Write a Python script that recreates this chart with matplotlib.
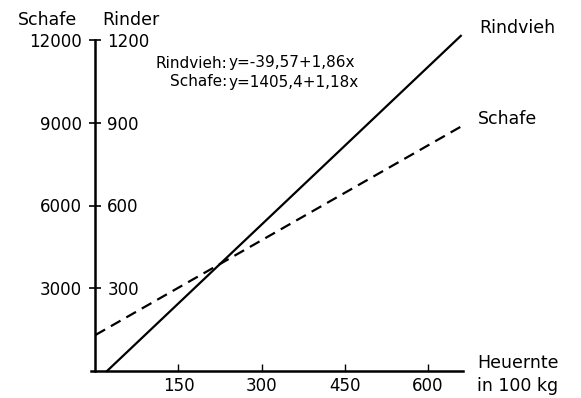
import matplotlib.pyplot as plt

# values
rind_x = [21, 660]          # Heuernte (100 kg)
rind_y = [0, 1215]          # Rinder
schafe_x = [0, 662]
schafe_y = [1305, 8880]     # Schafe

x_ticks = [150, 300, 450, 600]
schafe_ticks = [3000, 6000, 9000, 12000]
rinder_ticks = [300, 600, 900, 1200]

plt.rcParams['font.family'] = 'DejaVu Sans'
fs = 12
lab_fs = 12.5

fig = plt.figure(figsize=(5.81, 3.98), dpi=100)
W, H = 581, 398
ax = fig.add_axes([91 / W, 1 - 371 / H, (463 - 91) / W, (371 - 40) / H])
ax2 = ax.twinx()

ax.set_xlim(-8, 664)
ax.set_ylim(0, 12000)
ax2.set_ylim(0, 1200)

for a in (ax, ax2):
    for s in a.spines.values():
        s.set_visible(False)
ax.spines['left'].set_visible(True)
ax.spines['left'].set_position(('data', 0))
ax.spines['bottom'].set_visible(True)
ax.spines['left'].set_linewidth(1.8)
ax.spines['bottom'].set_linewidth(1.8)

ax.set_xticks(x_ticks)
ax.set_xticklabels([str(v) for v in x_ticks])
ax.tick_params(axis='x', direction='in', length=5, width=1, pad=4, labelsize=fs)

ax.set_yticks(schafe_ticks)
ax.set_yticklabels([str(v) for v in schafe_ticks])
ax.tick_params(axis='y', direction='inout', length=8, width=1.2, pad=6, labelsize=fs)

ax2.set_yticks(rinder_ticks)
ax2.set_yticklabels([str(v) for v in rinder_ticks])
ax2.tick_params(axis='y', left=False, right=False, labelleft=False,
                labelright=True, pad=5, labelsize=fs)
ax2.spines['right'].set_position(('data', 0))

ax2.plot(rind_x, rind_y, color='black', lw=1.6, clip_on=False)
ax.plot(schafe_x, schafe_y, color='black', lw=1.6, dashes=(5, 3), clip_on=False)

# text labels
fig.text(18 / W, 1 - 20 / H, 'Schafe', fontsize=lab_fs, va='center', ha='left')
fig.text(102 / W, 1 - 20 / H, 'Rinder', fontsize=lab_fs, va='center', ha='left')

eq_fs = 11
fig.text(227 / W, 1 - 63 / H, 'Rindvieh:', fontsize=eq_fs, ha='right', va='center')
fig.text(228 / W, 1 - 63 / H, 'y=-39,57+1,86x', fontsize=eq_fs, ha='left', va='center')
fig.text(227 / W, 1 - 82 / H, 'Schafe:', fontsize=eq_fs, ha='right', va='center')
fig.text(228 / W, 1 - 82 / H, 'y=1405,4+1,18x', fontsize=eq_fs, ha='left', va='center')

fig.text(479 / W, 1 - 28 / H, 'Rindvieh', fontsize=lab_fs, ha='left', va='center')
fig.text(478 / W, 1 - 119 / H, 'Schafe', fontsize=lab_fs, ha='left', va='center')
fig.text(477 / W, 1 - 363 / H, 'Heuernte', fontsize=lab_fs, ha='left', va='center')
fig.text(477 / W, 1 - 386 / H, 'in 100 kg', fontsize=lab_fs, ha='left', va='center')

fig.savefig('out.png', dpi=100)
